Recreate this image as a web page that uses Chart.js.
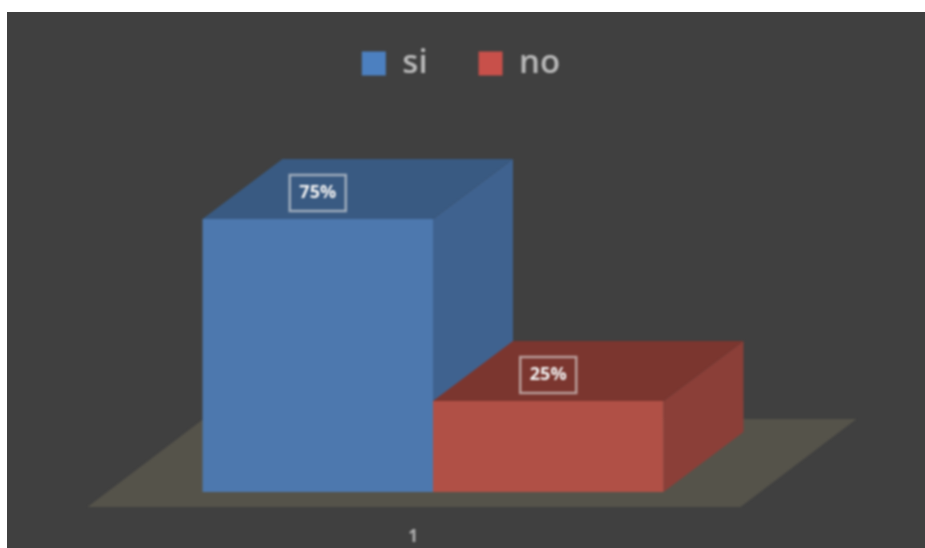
<!DOCTYPE html>
<html>
<head>
<meta charset="utf-8">
<style>
  html, body { margin: 0; padding: 0; background: #fff; overflow: hidden; }
  #wrap { position: absolute; left: 7px; top: 12px; width: 918px; height: 536px; background: #404040; overflow: hidden; }
  /* the source picture is a soft screenshot */
  #chart { filter: blur(0.8px); }
</style>
</head>
<body>
<div id="wrap"><canvas id="chart"></canvas></div>
<script src="https://cdn.jsdelivr.net/npm/chart.js@4"></script>
<script>
const categories = ['1'];
const siValues = [75];
const noValues = [25];

// fake 3d look, bars themselves come from chart.js
const depthX = 80;
const depthY = 60;
const legendColors = ['#4c80c0', '#c8504a'];
const sideColors = ['#3f628f', '#8b3f38'];
const topColors = ['#395a82', '#7b362f'];
const floorColor = '#55534a';

function poly(ctx, points, color) {
  ctx.fillStyle = color;
  ctx.beginPath();
  points.forEach((p, i) => (i ? ctx.lineTo(p[0], p[1]) : ctx.moveTo(p[0], p[1])));
  ctx.closePath();
  ctx.fill();
}

const box3d = {
  id: 'box3d',
  afterLayout(chart) {
    // legend padding pushes it too low, and it sits a bit left of the canvas center
    chart.legend.left += 28;
    chart.legend.right += 28;
    chart.legend.top -= 38;
    chart.legend.bottom -= 38;
  },
  beforeDatasetsDraw(chart) {
    const ctx = chart.ctx;
    const first = chart.getDatasetMeta(0).data[0];
    const last = chart.getDatasetMeta(1).data[0];
    const left = first.x - first.width / 2;
    const right = last.x + last.width / 2;
    const base = first.base;

    poly(ctx, [
      [left - 115, base + 15],
      [right + 77, base + 15],
      [right + 193, base - 73],
      [left + 1, base - 73],
    ], floorColor);

    chart.data.datasets.forEach((ds, i) => {
      const bar = chart.getDatasetMeta(i).data[0];
      const l = bar.x - bar.width / 2;
      const r = bar.x + bar.width / 2;
      poly(ctx, [[r, bar.y], [r + depthX, bar.y - depthY], [r + depthX, bar.base - depthY], [r, bar.base]], sideColors[i]);
      poly(ctx, [[l, bar.y], [l + depthX, bar.y - depthY], [r + depthX, bar.y - depthY], [r, bar.y]], topColors[i]);
    });
  },
  afterDatasetsDraw(chart) {
    const ctx = chart.ctx;
    chart.data.datasets.forEach((ds, i) => {
      const bar = chart.getDatasetMeta(i).data[0];
      const cy = bar.y - 26;
      ctx.strokeStyle = 'rgba(225,225,225,0.6)';
      ctx.lineWidth = 2.5;
      ctx.strokeRect(bar.x - 28, cy - 18, 56, 36);
      ctx.fillStyle = '#f2f2f2';
      ctx.font = 'bold 18px "Open Sans"';
      ctx.textAlign = 'center';
      ctx.textBaseline = 'middle';
      ctx.fillText(ds.data[0] + '%', bar.x, cy);
    });
  },
};

new Chart(document.getElementById('chart'), {
  type: 'bar',
  data: {
    labels: categories,
    datasets: [
      { label: 'si', data: siValues, backgroundColor: '#4d78ae' },
      { label: 'no', data: noValues, backgroundColor: '#b05046' },
    ],
  },
  options: {
    responsive: true,
    maintainAspectRatio: false,
    animation: false,
    layout: { padding: { left: 81, right: 147, top: 22, bottom: 0 } },
    datasets: { bar: { barPercentage: 1, categoryPercentage: 0.668 } },
    plugins: {
      tooltip: { enabled: false },
      legend: {
        position: 'top',
        labels: {
          color: '#b9b9b9',
          boxWidth: 24,
          boxHeight: 24,
          padding: 51,
          font: { family: '"Open Sans"', size: 33, weight: '600' },
          generateLabels(chart) {
            return Chart.defaults.plugins.legend.labels.generateLabels(chart).map((item, i) => {
              item.fillStyle = legendColors[i];
              return item;
            });
          },
        },
      },
    },
    scales: {
      x: {
        grid: { display: false },
        border: { display: false },
        afterFit(scale) { scale.height = 56; },
        ticks: { color: '#b0b0b0', padding: 27, labelOffset: -20, font: { family: '"Open Sans"', size: 17, weight: 'bold' } },
      },
      y: { display: false, min: 0, max: 100 },
    },
  },
  plugins: [box3d],
});
</script>
</body>
</html>
